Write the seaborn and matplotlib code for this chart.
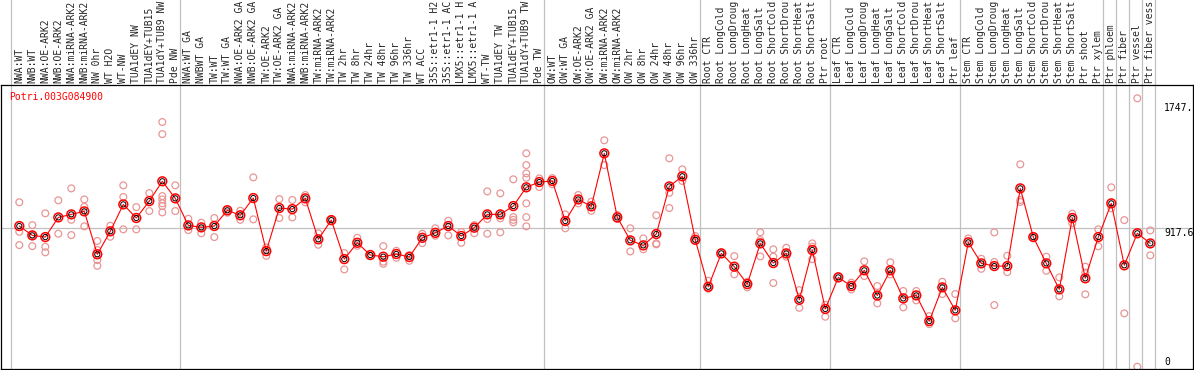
import pandas as pd
import matplotlib
matplotlib.use("Agg")
import matplotlib.pyplot as plt
import seaborn as sns

# sample labels (x axis, drawn on top; the source cuts them at 14 characters)
labels = [
    "NWA:WT", "NWB:WT", "NWA:OE-ARK2", "NWB:OE-ARK2", "NWA:miRNA-ARK2", "NWB:miRNA-ARK2",
    "NW 0hr", "WT H2O", "WT-NW", "TUA1dEY NW", "TUA1dEY+TUB15", "TUA1dY+TUB9 NW", "Pde NW",
    "NWA:WT GA", "NWBWT GA", "TW:WT", "TW:WT GA", "NWA:OE-ARK2 GA", "NWB:OE-ARK2 GA",
    "TW:OE-ARK2", "TW:OE-ARK2 GA", "NWA:miRNA-ARK2", "NWB:miRNA-ARK2", "TW:miRNA-ARK2",
    "TW:miRNA-ARK2", "TW 2hr", "TW 8hr", "TW 24hr", "TW 48hr", "TW 96hr", "TW 336hr",
    "WT ACC", "35S::etr1-1 H2", "35S::etr1-1 AC", "LMX5::etr1-1 H", "LMX5::etr1-1 A",
    "WT-TW", "TUA1dEY TW", "TUA1dEY+TUB15", "TUA1dY+TUB9 TW", "Pde TW",
    "OW:WT", "OW:WT GA", "OW:OE-ARK2", "OW:OE-ARK2 GA", "OW:miRNA-ARK2", "OW:miRNA-ARK2",
    "OW 2hr", "OW 8hr", "OW 24hr", "OW 48hr", "OW 96hr", "OW 336hr",
    "Root CTR", "Root LongCold", "Root LongDroug", "Root LongHeat", "Root LongSalt",
    "Root ShortCold", "Root ShortDrou", "Root ShortHeat", "Root ShortSalt", "Ptr root",
    "Leaf CTR", "Leaf LongCold", "Leaf LongDroug", "Leaf LongHeat", "Leaf LongSalt",
    "Leaf ShortCold", "Leaf ShortDrou", "Leaf ShortHeat", "Leaf ShortSalt", "Ptr leaf",
    "Stem CTR", "Stem LongCold", "Stem LongDroug", "Stem LongHeat", "Stem LongSalt",
    "Stem ShortCold", "Stem ShortDrou", "Stem ShortHeat", "Stem ShortSalt", "Ptr shoot",
    "Ptr xylem", "Ptr phloem", "Ptr fiber", "Ptr vessel", "Ptr fiber vess",
]

# mean expression per sample
mean_expr = [
    931, 869, 858, 988, 1008, 1028, 744, 896, 1074, 984, 1096, 1227, 1114,
    935, 922, 931, 1035, 1002, 1116, 765, 1050, 1043, 1114, 843, 970, 712, 820, 739,
    728, 746, 726, 853, 886, 931, 865, 920, 1008, 1008, 1063, 1187, 1222,
    1229, 964, 1107, 1061, 1412, 988, 836, 803, 878, 1193, 1260, 840,
    529, 750, 662, 547, 816, 686, 750, 443, 772, 382,
    591, 534, 638, 471, 638, 452, 472, 302, 525, 373,
    823, 684, 666, 666, 1180, 858, 684, 512, 984, 585, 858,
    1081, 671, 883, 816,
]

# individual replicates per sample
replicates = [
    [1088, 893, 805], [937, 798, 872], [1015, 794, 757], [1101, 880], [1180, 972, 871],
    [1107, 1058, 929], [832, 706, 668, 772], [933, 860], [1200, 1123, 909], [1056, 909],
    [1149, 1030], [1619, 1539, 1129, 1107, 1081, 1063, 1021], [1200, 1030],
    [979, 904], [953, 883], [984, 858], [1043, 1019], [1032, 972], [1253, 975],
    [790, 734], [1109, 984], [1103, 988], [1136, 1088], [883, 807], [976],
    [752, 644], [853, 800], [734], [798, 695, 681], [767, 721], [701, 739],
    [880, 818], [916, 867], [966, 869], [891, 820], [937, 883],
    [1160, 977, 880], [1147, 982, 889], [1240, 990, 955, 972],
    [1412, 1334, 1279, 1250, 1081, 990, 929], [1246, 1189],
    [1248, 1207], [1008, 916], [1136, 1081], [1092, 1032], [1498, 1334], [1004, 977],
    [916, 763], [849, 777], [1002, 816, 810], [1379, 1151, 1050], [1306, 1229], [865, 834],
    [569, 516], [757], [732, 611], [525, 562], [889, 838, 730], [777, 728, 554],
    [787, 728], [507, 390], [816, 794, 712], [410, 331],
    [600], [556, 512], [697, 600], [534, 419], [691, 611], [501, 393], [501, 439],
    [335, 282], [562, 481], [481, 320],
    [849], [714, 648], [889, 693, 408], [734, 626], [1339, 1103, 1090], [860],
    [728, 635], [591, 466], [1012, 949], [662, 622, 479], [909, 797],
    [1187, 1048], [970, 353], [1776, 0], [902, 737],
]

# first sample index of each tissue group, plus end
group_starts = [0, 13, 41, 53, 63, 73, 84, 85, 86, 87, 88]

gene_name = "Potri.003G084900"
ref_lines = [917.6]
side_ticks = [(1747, "1747."), (917.6, "917.6"), (0, "0")]

idx = list(range(len(labels)))
rep_df = pd.DataFrame(
    [(i, v) for i, vals in enumerate(replicates) for v in vals], columns=["sample", "expr"]
)
mean_df = pd.DataFrame({"sample": idx, "expr": mean_expr})

sns.set_theme(style="white")
plt.rcParams["font.family"] = ["DejaVu Sans Mono"]

W, H = 1194, 370
fig = plt.figure(figsize=(W / 100, H / 100), dpi=100)
ax = fig.add_axes([1 / W, 1 / H, 1192 / W, 284 / H])

step = 13.0
x0 = 19.3
ax.set_xlim((1 - x0) / step, (1193 - x0) / step)
ax.set_ylim(-15, 1864)

for v in ref_lines:
    ax.axhline(v, color="#c0c0c0", lw=0.9, zorder=0)
for g in group_starts:
    ax.axvline(g - 0.62, ymin=0, ymax=1.31, color="#c0c0c0", lw=0.9, zorder=0, clip_on=False)

sns.scatterplot(data=rep_df, x="sample", y="expr", ax=ax, marker="o", s=24,
                facecolor="none", edgecolor="#e89696", linewidth=0.9, zorder=2, legend=False)
sns.lineplot(data=mean_df, x="sample", y="expr", ax=ax, color="#ff0000", lw=0.8, zorder=3)
sns.scatterplot(data=mean_df, x="sample", y="expr", ax=ax, marker="o", s=40,
                facecolor="none", edgecolor="#ff0000", linewidth=1.1, zorder=4, legend=False)
sns.scatterplot(data=mean_df, x="sample", y="expr", ax=ax, marker="o", s=14,
                facecolor="none", edgecolor="black", linewidth=0.7, zorder=5, legend=False)

ax.set_xticks(idx)
ax.set_xticklabels(labels, rotation=90, fontsize=7)
ax.tick_params(axis="x", top=True, labeltop=True, bottom=False, labelbottom=False,
               length=0, pad=1.5)
ax.set_yticks([])
ax.set_xlabel("")
ax.set_ylabel("")

for sp in ax.spines.values():
    sp.set_color("black")
    sp.set_linewidth(0.9)

xr = (1164 - x0) / step
for val, txt in side_ticks:
    ax.text(xr, val, txt, fontsize=7, ha="left",
            va="bottom" if val == 0 else "top", color="black")

ax.text(0.0067, 0.975, gene_name, transform=ax.transAxes, color="red",
        fontsize=7, ha="left", va="top")

fig.savefig("out.png", dpi=100)
